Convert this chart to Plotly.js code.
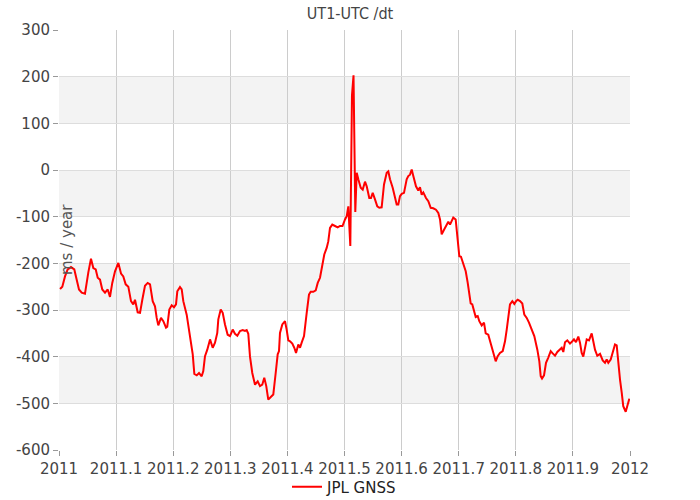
<!DOCTYPE html>
<html>
<head>
<meta charset="utf-8">
<script src="https://cdn.plot.ly/plotly-3.0.1.min.js"></script>
<style>html,body{margin:0;padding:0;background:#fff;}#chart{width:700px;height:500px;}</style>
</head>
<body>
<div id="chart"></div>
<script>
// Decimal year of each sample
var epochs = [
2011.0018,2011.0058,2011.0105,2011.0152,2011.0210,2011.0268,2011.0310,2011.0350,2011.0398,2011.0455,
2011.0513,2011.0560,2011.0601,2011.0643,2011.0678,2011.0718,2011.0758,2011.0806,2011.0853,2011.0893,
2011.0933,2011.0981,2011.1039,2011.1086,2011.1126,2011.1168,2011.1214,2011.1261,2011.1301,2011.1331,
2011.1378,2011.1419,2011.1459,2011.1506,2011.1553,2011.1594,2011.1641,2011.1681,2011.1711,2011.1739,
2011.1786,2011.1827,2011.1874,2011.1896,2011.1932,2011.1974,2011.2014,2011.2049,2011.2072,2011.2119,
2011.2149,2011.2177,2011.2236,2011.2294,2011.2342,2011.2370,2011.2412,2011.2452,2011.2499,2011.2527,
2011.2557,2011.2597,2011.2645,2011.2692,2011.2732,2011.2772,2011.2790,2011.2832,2011.2867,2011.2907,
2011.2954,2011.2995,2011.3042,2011.3082,2011.3123,2011.3170,2011.3217,2011.3257,2011.3287,2011.3315,
2011.3345,2011.3385,2011.3433,2011.3480,2011.3520,2011.3560,2011.3595,2011.3630,2011.3665,2011.3713,
2011.3753,2011.3795,2011.3830,2011.3853,2011.3870,2011.3911,2011.3958,2011.3987,2011.4016,2011.4046,
2011.4086,2011.4121,2011.4151,2011.4191,2011.4221,2011.4250,2011.4291,2011.4338,2011.4378,2011.4408,
2011.4454,2011.4496,2011.4531,2011.4571,2011.4611,2011.4646,2011.4688,2011.4716,2011.4746,2011.4786,
2011.4834,2011.4881,2011.4921,2011.4965,2011.5009,2011.5039,2011.5067,2011.5102,2011.5131,2011.5158,
2011.5189,2011.5214,2011.5242,2011.5284,2011.5319,2011.5359,2011.5389,2011.5434,2011.5464,2011.5494,
2011.5534,2011.5574,2011.5609,2011.5651,2011.5692,2011.5739,2011.5767,2011.5797,2011.5844,2011.5884,
2011.5914,2011.5942,2011.5972,2011.6002,2011.6042,2011.6089,2011.6117,2011.6147,2011.6177,2011.6205,
2011.6252,2011.6292,2011.6322,2011.6352,2011.6380,2011.6427,2011.6468,2011.6510,2011.6555,2011.6602,
2011.6643,2011.6673,2011.6702,2011.6743,2011.6790,2011.6818,2011.6848,2011.6877,2011.6905,2011.6947,
2011.6982,2011.7011,2011.7040,2011.7081,2011.7123,2011.7158,2011.7186,2011.7210,2011.7238,2011.7273,
2011.7298,2011.7333,2011.7361,2011.7403,2011.7443,2011.7473,2011.7518,2011.7566,2011.7606,2011.7648,
2011.7683,2011.7723,2011.7771,2011.7811,2011.7841,2011.7869,2011.7898,2011.7939,2011.7974,2011.8004,
2011.8033,2011.8074,2011.8114,2011.8149,2011.8191,2011.8231,2011.8279,2011.8324,2011.8377,2011.8412,
2011.8436,2011.8459,2011.8494,2011.8529,2011.8569,2011.8611,2011.8646,2011.8687,2011.8727,2011.8774,
2011.8804,2011.8832,2011.8862,2011.8902,2011.8949,2011.8990,2011.9019,2011.9054,2011.9095,2011.9124,
2011.9154,2011.9182,2011.9212,2011.9242,2011.9282,2011.9329,2011.9357,2011.9387,2011.9427,2011.9475,
2011.9522,2011.9562,2011.9592,2011.9620,2011.9662,2011.9697,2011.9737,2011.9767,2011.9795,2011.9825,
2011.9855,2011.9882,2011.9925,2011.9960,2011.9988
];
// UT1-UTC rate, ms / year (JPL GNSS)
var jplGnss = [
-255,-250,-228,-213,-208,-213,-235,-256,-263,-265,
-220,-190,-210,-213,-231,-235,-256,-263,-256,-272,
-242,-217,-199,-222,-228,-245,-250,-281,-288,-278,
-305,-306,-278,-248,-242,-245,-281,-292,-317,-333,
-317,-324,-338,-336,-299,-290,-294,-288,-260,-251,
-256,-281,-310,-363,-395,-437,-440,-435,-442,-431,
-399,-385,-363,-381,-370,-349,-320,-299,-306,-331,
-353,-356,-342,-351,-355,-345,-343,-345,-343,-351,
-400,-435,-460,-453,-463,-460,-445,-463,-492,-486,
-481,-435,-395,-388,-349,-331,-324,-342,-365,-367,
-372,-381,-392,-374,-381,-370,-356,-306,-267,-261,
-261,-258,-242,-231,-206,-181,-167,-153,-124,-117,
-120,-123,-120,-120,-106,-99,-78,-163,160,203,
-90,-6,-20,-38,-42,-25,-35,-60,-60,-49,
-63,-78,-81,-80,-31,-6,-3,-20,-38,-56,
-74,-74,-56,-51,-49,-20,-13,-10,1,-13,
-35,-44,-37,-53,-48,-60,-67,-81,-82,-85,
-92,-106,-138,-128,-117,-111,-117,-110,-102,-106,
-142,-185,-186,-203,-217,-242,-263,-286,-288,-303,
-315,-313,-324,-333,-327,-350,-353,-374,-392,-410,
-399,-392,-388,-367,-342,-320,-288,-281,-287,-281,
-278,-281,-286,-310,-317,-327,-342,-356,-385,-410,
-442,-447,-440,-413,-402,-388,-393,-398,-390,-385,
-381,-390,-369,-365,-372,-367,-363,-369,-357,-370,
-392,-400,-381,-363,-365,-350,-367,-385,-398,-394,
-408,-413,-406,-413,-406,-392,-374,-376,-420,-449,
-477,-506,-518,-503,-490
];
var seriesName = "JPL GNSS";
var chartTitle = "UT1-UTC /dt";
var yTitle = "ms / year";
var xTickVals = [2011,2011.1,2011.2,2011.3,2011.4,2011.5,2011.6,2011.7,2011.8,2011.9,2012];
var xTickLabels = ["2011","2011.1","2011.2","2011.3","2011.4","2011.5","2011.6","2011.7","2011.8","2011.9","2012"];
var yTickVals = [300,200,100,0,-100,-200,-300,-400,-500,-600];
var yTickLabels = ["300","200","100","0","-100","-200","-300","-400","-500","-600"];
var bandRanges = [[100,200],[-100,0],[-300,-200],[-500,-400]];

var shapes = bandRanges.map(function(b){
  return {type:'rect', xref:'paper', yref:'y', x0:0, x1:1, y0:b[0], y1:b[1],
          fillcolor:'#f3f3f3', line:{width:0}, layer:'below'};
});

var trace = {
  x: epochs, y: jplGnss, type:'scatter', mode:'lines', name: seriesName,
  line:{color:'#ff0000', width:2}
};

var tickFont = {family:'DejaVu Sans, Verdana, sans-serif', size:15, color:'#444'};

var layout = {
  width:700, height:500,
  margin:{l:59, r:70, t:30, b:50},
  paper_bgcolor:'#ffffff', plot_bgcolor:'#ffffff',
  title:{text: chartTitle, x:0.5, xanchor:'center', y:0.985, yanchor:'top',
         font:{family:'DejaVu Sans Condensed, DejaVu Sans, sans-serif', size:16, color:'#444'}},
  xaxis:{type:'linear', range:[2011,2012], tickmode:'array', tickvals:xTickVals, ticktext:xTickLabels,
         tickangle:0, automargin:false,
         showgrid:true, gridcolor:'#cccccc', gridwidth:1, zeroline:false,
         ticks:'outside', ticklen:5, tickcolor:'#999', tickfont:tickFont,
         showline:false},
  yaxis:{type:'linear', range:[-600,300], tickmode:'array', tickvals:yTickVals, ticktext:yTickLabels,
         automargin:false,
         showgrid:true, gridcolor:'#dddddd', gridwidth:1, zeroline:false,
         ticks:'outside', ticklen:5, tickcolor:'#999', tickfont:tickFont,
         showline:false},
  shapes: shapes,
  showlegend:true,
  legend:{orientation:'h', x:0.5, xanchor:'center', xref:'paper',
          y:0.026, yanchor:'middle', yref:'container',
          font:{family:'DejaVu Sans, Verdana, sans-serif', size:15, color:'#222'},
          bgcolor:'rgba(0,0,0,0)'},
  annotations:[{text: yTitle, xref:'paper', yref:'paper', x:0, y:0.5,
                xanchor:'center', yanchor:'middle', xshift:8, textangle:-90, showarrow:false,
                font:{family:'DejaVu Sans, Verdana, sans-serif', size:15, color:'#555'}}]
};

Plotly.newPlot('chart', [trace], layout, {displayModeBar:false, staticPlot:true});
</script>
</body>
</html>
